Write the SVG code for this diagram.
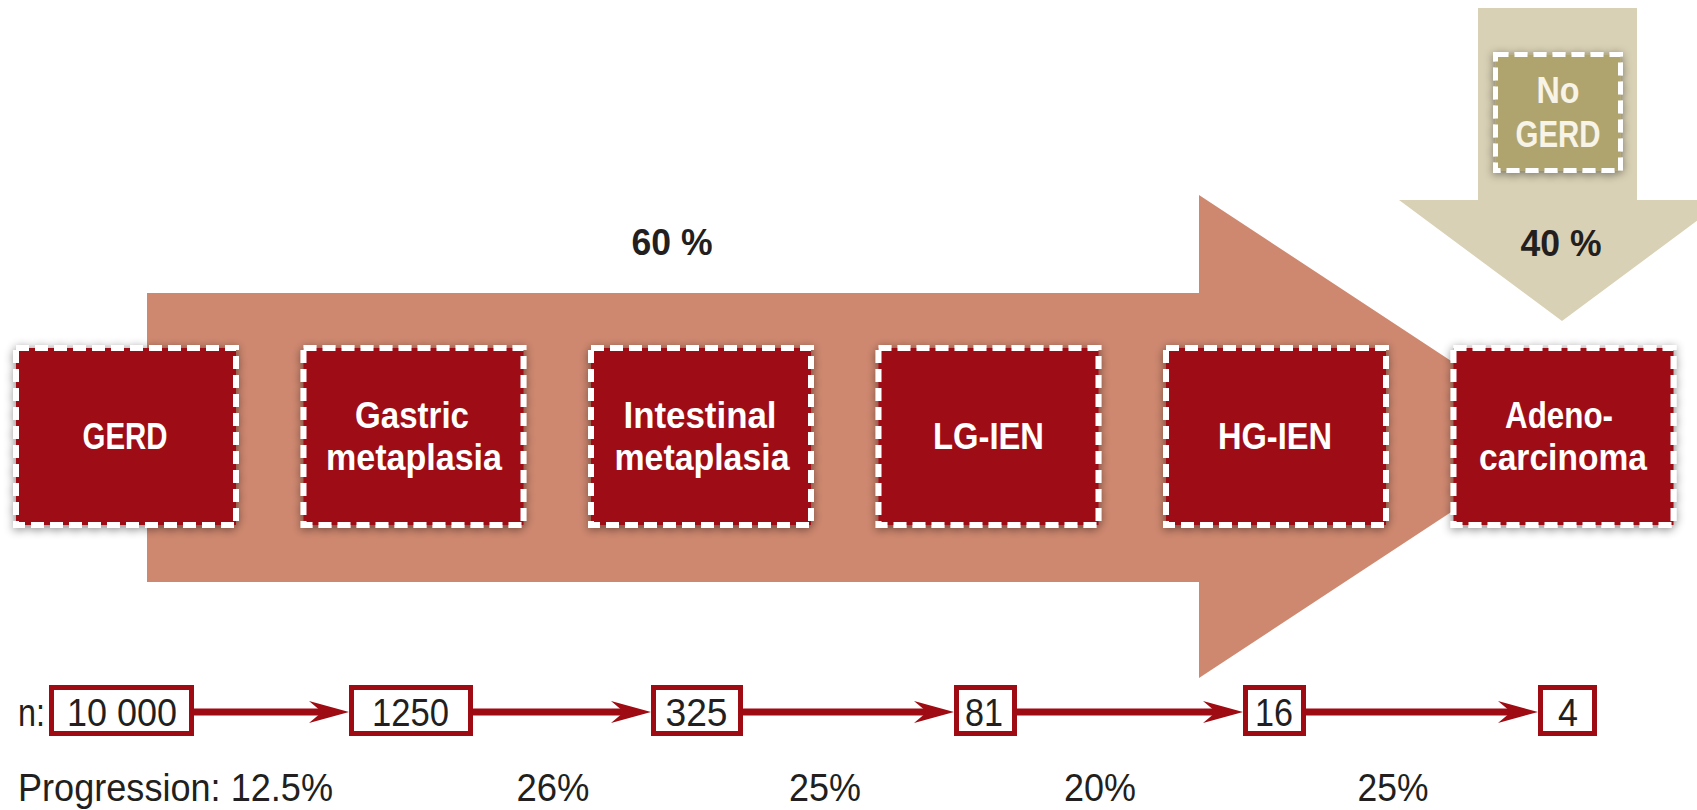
<svg xmlns="http://www.w3.org/2000/svg" width="1697" height="810" viewBox="0 0 1697 810">
  <style>
    .stage { fill: #9e0b12; stroke: #ffffff; stroke-width: 6; stroke-dasharray: 13 6; filter: url(#shadow); }
    .nogerd { fill: #b0a46e; stroke: #ffffff; stroke-width: 5; stroke-dasharray: 13 6; filter: url(#shadow); }
    text { font-family: "Liberation Sans", Arial, sans-serif; }
    .label { font-weight: bold; font-size: 37px; fill: #ffffff; text-anchor: middle; }
    .pct { font-weight: bold; font-size: 36px; fill: #231f20; text-anchor: middle; }
    .num { font-size: 39px; fill: #231f20; text-anchor: middle; }
    .row { font-size: 39px; fill: #231f20; }
    .nbox { fill: #ffffff; stroke: #9e0b12; stroke-width: 5; }
    .link { stroke: #9e0b12; stroke-width: 7; fill: none; marker-end: url(#head); }
  </style>
  <defs>
    <filter id="shadow" x="-20%" y="-20%" width="140%" height="140%">
      <feDropShadow dx="0" dy="2" stdDeviation="5" flood-color="#000000" flood-opacity="0.45"/>
    </filter>
    <marker id="head" markerUnits="userSpaceOnUse" viewBox="-22 -12 44 24" refX="0" refY="0" markerWidth="44" markerHeight="24" orient="auto">
      <path d="M20,0 L-20,-11 L-7,0 L-20,11 Z" fill="#9e0b12"/>
    </marker>
  </defs>

  <!-- background arrows -->
  <polygon id="progress-arrow" points="147,293 1199,293 1199,195 1566,436.5 1199,678 1199,582 147,582" fill="#cf8870"/>
  <polygon id="nogerd-arrow" points="1478,8 1637,8 1637,200 1725,200 1562,321 1399,200 1478,200" fill="#d9d1b5"/>

  <text class="pct" x="672" y="255" textLength="81" lengthAdjust="spacingAndGlyphs">60 %</text>
  <text class="pct" x="1561" y="256" textLength="81" lengthAdjust="spacingAndGlyphs">40 %</text>

  <!-- stage nodes -->
  <g id="node-nogerd">
    <rect class="nogerd" x="1495.5" y="54.5" width="125" height="116"/>
    <text class="label" x="1558" y="103" textLength="43" lengthAdjust="spacingAndGlyphs" style="fill:#f7f3e6">No</text>
    <text class="label" x="1558" y="147" textLength="85" lengthAdjust="spacingAndGlyphs" style="fill:#f7f3e6">GERD</text>
  </g>
  <g id="node-gerd">
    <rect class="stage" x="16" y="348" width="220" height="177"/>
    <text class="label" x="125" y="449" textLength="85" lengthAdjust="spacingAndGlyphs">GERD</text>
  </g>
  <g id="node-gastric">
    <rect class="stage" x="303.5" y="348" width="220" height="177"/>
    <text class="label" x="412" y="428" textLength="114" lengthAdjust="spacingAndGlyphs">Gastric</text>
    <text class="label" x="414" y="470" textLength="176" lengthAdjust="spacingAndGlyphs">metaplasia</text>
  </g>
  <g id="node-intestinal">
    <rect class="stage" x="591" y="348" width="220" height="177"/>
    <text class="label" x="700" y="428" textLength="153" lengthAdjust="spacingAndGlyphs">Intestinal</text>
    <text class="label" x="702" y="470" textLength="175" lengthAdjust="spacingAndGlyphs">metaplasia</text>
  </g>
  <g id="node-lgien">
    <rect class="stage" x="878.5" y="348" width="220" height="177"/>
    <text class="label" x="988.5" y="449" textLength="111" lengthAdjust="spacingAndGlyphs">LG-IEN</text>
  </g>
  <g id="node-hgien">
    <rect class="stage" x="1166" y="348" width="220" height="177"/>
    <text class="label" x="1275" y="449" textLength="114" lengthAdjust="spacingAndGlyphs">HG-IEN</text>
  </g>
  <g id="node-adeno">
    <rect class="stage" x="1453.5" y="348" width="220" height="177"/>
    <text class="label" x="1559" y="428" textLength="108" lengthAdjust="spacingAndGlyphs">Adeno-</text>
    <text class="label" x="1563" y="470" textLength="168" lengthAdjust="spacingAndGlyphs">carcinoma</text>
  </g>

  <!-- case counts -->
  <text class="row" x="18" y="726" textLength="27" lengthAdjust="spacingAndGlyphs">n:</text>
  <g id="count-10000">
    <rect class="nbox" x="51.5" y="687.5" width="140" height="46"/>
    <text class="num" x="122" y="726" textLength="110" lengthAdjust="spacingAndGlyphs">10 000</text>
  </g>
  <g id="count-1250">
    <rect class="nbox" x="351.5" y="687.5" width="119" height="46"/>
    <text class="num" x="410.5" y="726" textLength="77" lengthAdjust="spacingAndGlyphs">1250</text>
  </g>
  <g id="count-325">
    <rect class="nbox" x="653.5" y="687.5" width="87" height="46"/>
    <text class="num" x="696.5" y="726" textLength="62" lengthAdjust="spacingAndGlyphs">325</text>
  </g>
  <g id="count-81">
    <rect class="nbox" x="956.5" y="687.5" width="58" height="46"/>
    <text class="num" x="984" y="726" textLength="38" lengthAdjust="spacingAndGlyphs">81</text>
  </g>
  <g id="count-16">
    <rect class="nbox" x="1245.5" y="687.5" width="58" height="46"/>
    <text class="num" x="1274" y="726" textLength="38" lengthAdjust="spacingAndGlyphs">16</text>
  </g>
  <g id="count-4">
    <rect class="nbox" x="1540.5" y="687.5" width="54" height="46"/>
    <text class="num" x="1568" y="726" textLength="20" lengthAdjust="spacingAndGlyphs">4</text>
  </g>

  <!-- connectors between counts -->
  <g id="connectors">
    <path class="link" d="M194,712 H329"/>
    <path class="link" d="M473,712 H631"/>
    <path class="link" d="M743,712 H934"/>
    <path class="link" d="M1017,712 H1223"/>
    <path class="link" d="M1306,712 H1518"/>
  </g>

  <!-- progression rates -->
  <text class="row" x="18" y="801" textLength="315" lengthAdjust="spacingAndGlyphs">Progression: 12.5%</text>
  <text class="num" x="553" y="801" textLength="73" lengthAdjust="spacingAndGlyphs">26%</text>
  <text class="num" x="825" y="801" textLength="72" lengthAdjust="spacingAndGlyphs">25%</text>
  <text class="num" x="1100" y="801" textLength="72" lengthAdjust="spacingAndGlyphs">20%</text>
  <text class="num" x="1393" y="801" textLength="71" lengthAdjust="spacingAndGlyphs">25%</text>
</svg>
